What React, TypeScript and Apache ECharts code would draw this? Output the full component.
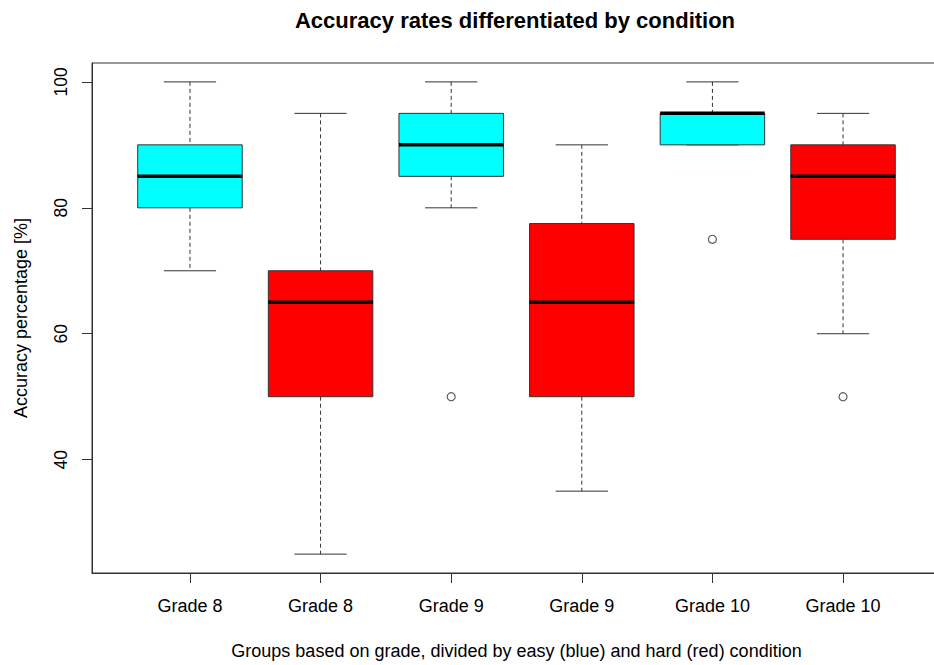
import React, { useEffect, useRef } from "react";
import * as echarts from "echarts";

const categories = ["Grade 8", "Grade 8", "Grade 9", "Grade 9", "Grade 10", "Grade 10"];
const whiskerLow = [70, 25, 80, 35, 90, 60];
const q1 = [80, 50, 85, 50, 90, 75];
const median = [85, 65, 90, 65, 95, 85];
const q3 = [90, 70, 95, 77.5, 95, 90];
const whiskerHigh = [100, 95, 100, 90, 100, 95];
const outlierGroups = [3, 5, 6];
const outlierValues = [50, 75, 50];
const yTicks = [40, 60, 80, 100];

const FONT = '"Liberation Sans", Arial, sans-serif';
const LINE = "#333";
const CHART_W = 960;

export default function App() {
  const ref = useRef<HTMLDivElement>(null);
  useEffect(() => {
    if (!ref.current) return;
    const chart = echarts.init(ref.current, undefined, { renderer: "svg" });
    const boxData = categories.map((_, i) => [i + 1, whiskerLow[i], q1[i], median[i], q3[i], whiskerHigh[i]]);
    const fills = ["#00FFFF", "#FF0000"];
    chart.setOption({
      animation: false,
      backgroundColor: "#fff",
      grid: { left: 92, top: 63, bottom: 88, right: CHART_W - 941, show: true, borderColor: LINE, borderWidth: 1, backgroundColor: "transparent" },
      graphic: [
        {
          type: "text",
          x: 515,
          y: 20,
          style: { text: "Accuracy rates differentiated by condition", font: `bold 22px ${FONT}`, fill: "#000", align: "center", verticalAlign: "middle" },
        },
      ],
      xAxis: {
        type: "value",
        min: 0.25,
        max: 6.75,
        splitLine: { show: false },
        axisLine: { show: true, lineStyle: { color: LINE } },
        axisTick: { show: true, length: 10, customValues: categories.map((_, i) => i + 1), lineStyle: { color: LINE } },
        axisLabel: {
          customValues: categories.map((_, i) => i + 1),
          formatter: (v: number) => categories[Math.round(v) - 1] ?? "",
          fontFamily: FONT,
          fontSize: 18,
          color: "#000",
          margin: 24,
        },
        name: "Groups based on grade, divided by easy (blue) and hard (red) condition",
        nameLocation: "middle",
        nameGap: 69,
        nameTextStyle: { fontFamily: FONT, fontSize: 18, color: "#000" },
      },
      yAxis: {
        type: "value",
        min: 22,
        max: 103,
        splitLine: { show: false },
        axisLine: { show: true, lineStyle: { color: LINE } },
        axisTick: { show: true, length: 10, customValues: yTicks, lineStyle: { color: LINE } },
        axisLabel: {
          customValues: yTicks,
          rotate: 90,
          fontFamily: FONT,
          fontSize: 17.5,
          color: "#000",
          margin: 22,
        },
        name: "Accuracy percentage [%]",
        nameLocation: "middle",
        nameGap: 62,
        nameTextStyle: { fontFamily: FONT, fontSize: 18, color: "#000" },
      },
      series: [
        {
          type: "custom",
          data: boxData,
          clip: false,
          renderItem: (params: any, api: any) => {
            const x = api.value(0);
            const lo = api.value(1);
            const b1 = api.value(2);
            const md = api.value(3);
            const b3 = api.value(4);
            const hi = api.value(5);
            const halfBox = api.size([0.8, 0])[0] / 2;
            const halfCap = api.size([0.4, 0])[0] / 2;
            const pLo = api.coord([x, lo]);
            const p1 = api.coord([x, b1]);
            const pM = api.coord([x, md]);
            const p3 = api.coord([x, b3]);
            const pHi = api.coord([x, hi]);
            const cx = pM[0];
            const fill = fills[params.dataIndex % 2];
            const dash = { stroke: LINE, lineWidth: 1, lineDash: [4, 3] };
            const solid = { stroke: LINE, lineWidth: 1 };
            const children: any[] = [];
            if (hi > b3) children.push({ type: "line", shape: { x1: cx, y1: pHi[1], x2: cx, y2: p3[1] }, style: dash });
            if (lo < b1) children.push({ type: "line", shape: { x1: cx, y1: p1[1], x2: cx, y2: pLo[1] }, style: dash });
            children.push({ type: "line", shape: { x1: cx - halfCap, y1: pHi[1], x2: cx + halfCap, y2: pHi[1] }, style: solid });
            children.push({ type: "line", shape: { x1: cx - halfCap, y1: pLo[1], x2: cx + halfCap, y2: pLo[1] }, style: solid });
            children.push({
              type: "rect",
              shape: { x: cx - halfBox, y: p3[1], width: halfBox * 2, height: p1[1] - p3[1] },
              style: { fill, stroke: LINE, lineWidth: 1 },
            });
            children.push({ type: "line", shape: { x1: cx - halfBox, y1: pM[1], x2: cx + halfBox, y2: pM[1] }, style: { stroke: "#000", lineWidth: 3.5 } });
            return { type: "group", children };
          },
        },
        {
          type: "scatter",
          data: outlierGroups.map((g, i) => [g, outlierValues[i]]),
          symbol: "circle",
          symbolSize: 8,
          itemStyle: { color: "#fff", borderColor: LINE, borderWidth: 1.2 },
        },
      ],
    });
    return () => chart.dispose();
  }, []);
  return (
    <div style={{ position: "fixed", left: 0, top: 0, width: 934, height: 665, overflow: "hidden", background: "#fff" }}>
      <div ref={ref} style={{ width: CHART_W, height: 665 }} />
    </div>
  );
}
